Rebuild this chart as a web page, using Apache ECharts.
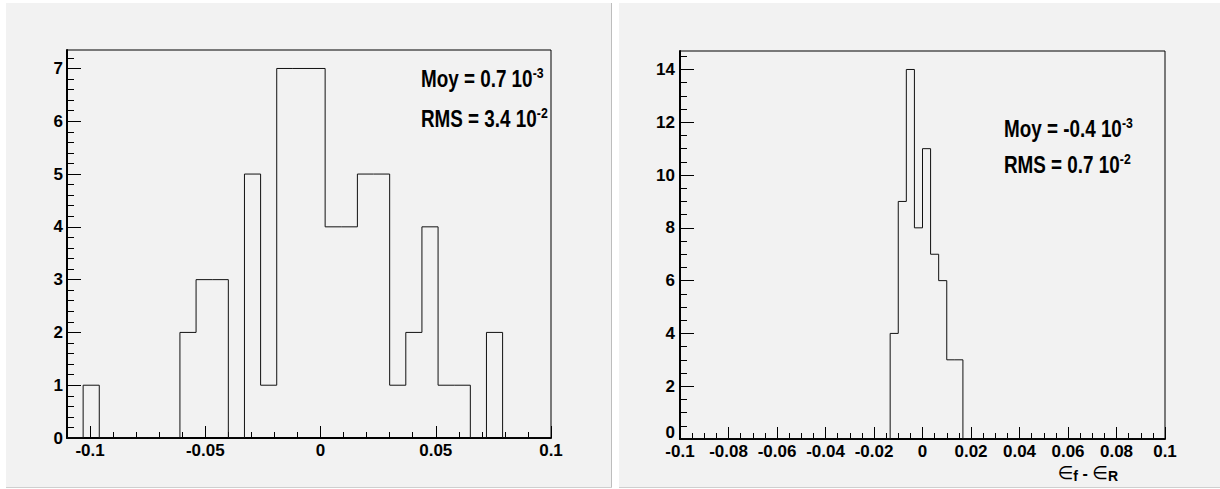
<!DOCTYPE html>
<html>
<head>
<meta charset="utf-8">
<script src="https://cdn.jsdelivr.net/npm/echarts@6/dist/echarts.min.js"></script>
<style>
html,body{margin:0;padding:0;background:#fff;}
#chart{width:1220px;height:489px;}
</style>
</head>
<body>
<div id="chart"></div>
<script>
// ---------- data ----------
// Left histogram: 30 bins between -0.11 and 0.1
const leftRange = [-0.11, 0.1];
const leftCounts = [0,1,0,0,0,0,0,2,3,3,0,5,1,7,7,7,4,4,5,5,1,2,4,1,1,0,2,0,0,0];
// Right histogram: 60 bins between -0.1 and 0.1
const rightRange = [-0.1, 0.1];
const rightCounts = [
  0,0,0,0,0,0,0,0,0,0, 0,0,0,0,0,0,0,0,0,0, 0,0,0,0,0,0,
  4,9,14,8,11,7,6,3,3,
  0,0,0,0,0, 0,0,0,0,0, 0,0,0,0,0, 0,0,0,0,0, 0,0,0,0,0
];
// tick labels
const leftXLabels = ['-0.1','-0.05','0','0.05','0.1'];
const leftYLabels = ['0','1','2','3','4','5','6','7'];
const rightXLabels = ['-0.1','-0.08','-0.06','-0.04','-0.02','0','0.02','0.04','0.06','0.08','0.1'];
const rightYLabels = ['0','2','4','6','8','10','12','14'];
// statistics text
const leftStats = [['Moy = 0.7 10','-3'],['RMS = 3.4 10','-2']];
const rightStats = [['Moy = -0.4 10','-3'],['RMS = 0.7 10','-2']];
const rightXTitle = ['\u2208','f',' - ','\u2208','R'];

// ---------- helpers ----------
function steps(from, to, step) {
  const out = [];
  const n = Math.round((to - from) / step);
  for (let i = 0; i <= n; i++) out.push(+(from + i * step).toFixed(4));
  return out;
}
function histLine(counts, range) {
  const lo = range[0], hi = range[1], w = (hi - lo) / counts.length;
  const pts = [[lo, 0]];
  counts.forEach((c, i) => pts.push([lo + i * w, c]));
  pts.push([hi, counts[counts.length - 1]]);
  pts.push([hi, 0]);
  return pts;
}
const FONT = "'Liberation Sans Narrow','Arial Narrow','Liberation Sans',Arial,sans-serif";
const labelStyle = {fontFamily: FONT, fontWeight: 'bold', fontSize: 17, color: '#000', lineHeight: 14};

function xAxes(grid, range, labels, minorStep, minorFrom) {
  const major = labels.map(Number);
  return [
    {type:'value', gridIndex:grid, position:'bottom', min:range[0], max:range[1],
     axisLine:{show:true, onZero:false, lineStyle:{color:'#000', width:2}},
     axisTick:{show:true, inside:true, length:6, lineStyle:{color:'#000', width:1},
               customValues: steps(minorFrom, range[1], minorStep)},
     axisLabel:{show:false}, splitLine:{show:false}},
    {type:'value', gridIndex:grid, position:'bottom', min:range[0], max:range[1],
     axisLine:{show:false, onZero:false},
     axisTick:{show:true, inside:true, length:12, lineStyle:{color:'#000', width:1}, customValues: major},
     axisLabel:Object.assign({show:true, margin:5, customValues: major,
       formatter: v => labels[major.findIndex(m => Math.abs(m - v) < 1e-9)]}, labelStyle),
     splitLine:{show:false}}
  ];
}
function yAxes(grid, max, labels, minorStep, minorTo, margin, minAlign) {
  const major = labels.map(Number);
  return [
    {type:'value', gridIndex:grid, position:'left', min:0, max:max,
     axisLine:{show:true, onZero:false, lineStyle:{color:'#000', width:2}},
     axisTick:{show:true, inside:true, length:7, lineStyle:{color:'#000', width:1},
               customValues: steps(0, minorTo, minorStep)},
     axisLabel:{show:false}, splitLine:{show:false}},
    {type:'value', gridIndex:grid, position:'left', min:0, max:max,
     axisLine:{show:false, onZero:false},
     axisTick:{show:true, inside:true, length:14, lineStyle:{color:'#000', width:1}, customValues: major},
     axisLabel:Object.assign({show:true, margin:margin, customValues: major, verticalAlignMinLabel:minAlign,
       formatter: v => labels[major.findIndex(m => Math.abs(m - v) < 1e-9)]}, labelStyle),
     splitLine:{show:false}}
  ];
}
function statsText(lines, x, y, gap) {
  return lines.map((l, i) => ({
    type:'text', left:x, top:y + i * gap, z:50, scaleX:0.82,
    style:{
      text:'{a|' + l[0] + '}{s|' + l[1] + '}',
      rich:{
        a:{fontFamily:FONT, fontWeight:'bold', fontSize:23, lineHeight:26, fill:'#000'},
        s:{fontFamily:FONT, fontWeight:'bold', fontSize:15, lineHeight:15, fill:'#000', verticalAlign:'top'}
      }
    }
  }));
}

const chart = echarts.init(document.getElementById('chart'), null, {renderer:'svg'});
const option = {
  animation:false,
  backgroundColor:'#ffffff',
  grid:[
    {left:67, top:50, width:484, height:388, show:true, borderColor:'#000', borderWidth:1, backgroundColor:'transparent'},
    {left:680, top:51, width:485, height:388, show:true, borderColor:'#000', borderWidth:1, backgroundColor:'transparent'}
  ],
  xAxis: [].concat(
    xAxes(0, leftRange, leftXLabels, 0.01, -0.11),
    xAxes(1, rightRange, rightXLabels, 0.005, -0.1)
  ),
  yAxis: [].concat(
    yAxes(0, 7.35, leftYLabels, 0.2, 7.2, 4, 'middle'),
    yAxes(1, 14.7, rightYLabels, 0.5, 14.5, 5, 'bottom')
  ),
  series:[
    {type:'line', name:'left', xAxisIndex:0, yAxisIndex:0, step:'end', showSymbol:false, silent:true,
     data: histLine(leftCounts, leftRange), lineStyle:{color:'#111', width:1}, z:5},
    {type:'line', name:'right', xAxisIndex:2, yAxisIndex:2, step:'end', showSymbol:false, silent:true,
     data: histLine(rightCounts, rightRange), lineStyle:{color:'#111', width:1}, z:5}
  ],
  graphic:[
    {type:'rect', shape:{x:6, y:3, width:605, height:484}, style:{fill:'#f2f2f2'}, z:-100, silent:true},
    {type:'line', shape:{x1:611.5, y1:3, x2:611.5, y2:487}, style:{stroke:'#bdbdbd', lineWidth:1}, z:-99, silent:true},
    {type:'line', shape:{x1:6, y1:487.5, x2:612, y2:487.5}, style:{stroke:'#cfcfcf', lineWidth:1}, z:-99, silent:true},
    {type:'rect', shape:{x:619, y:3, width:601, height:484}, style:{fill:'#f2f2f2'}, z:-100, silent:true},
    {type:'line', shape:{x1:619, y1:487.5, x2:1220, y2:487.5}, style:{stroke:'#cfcfcf', lineWidth:1}, z:-99, silent:true}
  ].concat(
    statsText(leftStats, 421, 66, 40),
    statsText(rightStats, 1004, 116, 36),
    [{type:'text', right:102, top:463, z:50,
      style:{
        text:'{e|' + rightXTitle[0] + '}{s|' + rightXTitle[1] + '}{m|' + rightXTitle[2] + '}{e|' + rightXTitle[3] + '}{s|' + rightXTitle[4] + '}',
        rich:{
          e:{fontFamily:"'DejaVu Sans',sans-serif", fontSize:18, lineHeight:15, fill:'#000', verticalAlign:'top'},
          s:{fontFamily:FONT, fontWeight:'bold', fontSize:14, lineHeight:14, fill:'#000', verticalAlign:'bottom'},
          m:{fontFamily:FONT, fontWeight:'bold', fontSize:16, lineHeight:20, fill:'#000'}
        }
      }}]
  )
};
chart.setOption(option);
</script>
</body>
</html>
